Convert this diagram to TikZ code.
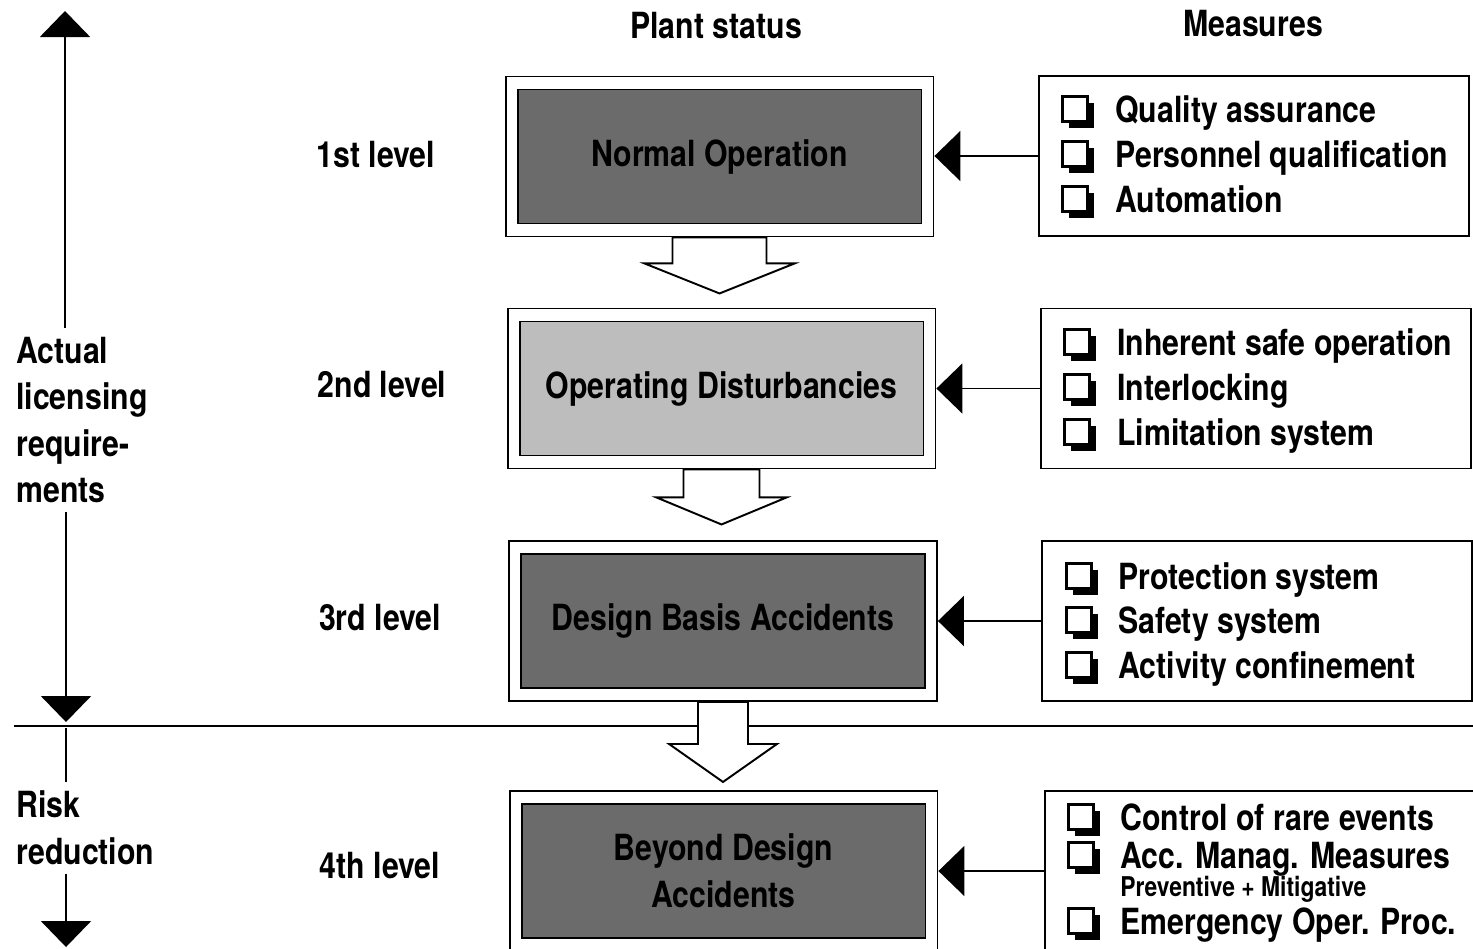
\documentclass[tikz,border=0pt]{standalone}
\usepackage{fontspec}
\setmainfont{TeX Gyre Heros}[FakeStretch=0.84]
\usetikzlibrary{arrows.meta, shadows}

\definecolor{darkfill}{gray}{0.42}
\definecolor{lightfill}{gray}{0.74}

\tikzset{
    lvlbox/.style={draw, line width=1.1pt, minimum width=8.56cm, minimum height=3.2cm, inner sep=0pt},
    lvlfill/.style={draw, line width=1.1pt, minimum width=8.08cm, minimum height=2.68cm, align=center, inner sep=0pt},
    measbox/.style={draw, line width=1.1pt, minimum width=8.6cm, minimum height=3.2cm, inner sep=0pt},
    chkbox/.style={draw, line width=1.5pt, fill=white, minimum size=0.5cm, inner sep=0pt,
        drop shadow={fill=black, opacity=1, shadow xshift=3.6pt, shadow yshift=-3.6pt}},
    item/.style={anchor=base west, inner sep=0pt},
    side/.style={anchor=west, align=left, inner xsep=0pt, inner ysep=5pt},
    thinline/.style={line width=1.1pt},
    bigarrow/.style={line width=1.1pt, -{Triangle[length=0.52cm, width=1cm]}},
    hollow/.style={line width=1.1pt, fill=white, line join=miter},
}

% hollow block arrow: start, shaft half width, head half width, shaft length, head length
\newcommand{\flowarrow}[5]{%
    \filldraw[hollow] (#1) ++(-#2,0) -- ++(0,#4) -- ++(#2-#3,0) -- ++(#3,#5)
        -- ++(#3,-#5) -- ++(#2-#3,0) -- ++(0,-#4) -- cycle;}

\begin{document}
\begin{tikzpicture}[x=0.02cm, y=-0.02cm, font=\fontsize{20.5}{26.5}\selectfont\bfseries]
    \clip (0,0) rectangle (1473,948);

    % column heads
    \node (headA) at (716,26) {Plant status};
    \node (headB) at (1253,24) {Measures};

    % levels
    \node (lblA) at (376,155) {1st level};
    \node (lblB) at (382,385) {2nd level};
    \node (lblC) at (380,618) {3rd level};
    \node (lblD) at (380,866) {4th level};

    % plant status boxes
    \node[lvlbox] (lvlA) at (719.5,156.5) {};
    \node[lvlfill, fill=darkfill] (inA) at (lvlA.center) {Normal Operation};
    \node[lvlbox] (lvlB) at (721.5,388.5) {};
    \node[lvlfill, fill=lightfill] (inB) at (lvlB.center) {Operating Disturbancies};
    \node[lvlbox] (lvlC) at (723,621) {};
    \node[lvlfill, fill=darkfill] (inC) at (lvlC.center) {Design Basis Accidents};
    \node[lvlbox] (lvlD) at (723.5,871) {};
    \node[lvlfill, fill=darkfill] (inD) at (lvlD.center) {Beyond Design\\Accidents};

    % measures boxes
    \node[measbox] (msA) at (1254,156) {};
    \node[measbox] (msB) at (1256,388.5) {};
    \node[measbox] (msC) at (1257,621) {};
    \node[measbox] (msD) at (1260,871) {};

    \foreach \yb/\txt [count=\i] in {122/Quality assurance, 167/Personnel qualification, 212/Automation} {
        \node[chkbox] (cA\i) at (1075,\yb-13) {};
        \node[item] (mA\i) at (1115,\yb) {\txt};
    }
    \foreach \yb/\txt [count=\i] in {355/Inherent safe operation, 400/Interlocking, 445/Limitation system} {
        \node[chkbox] (cB\i) at (1077,\yb-13) {};
        \node[item] (mB\i) at (1117,\yb) {\txt};
    }
    \foreach \yb/\txt [count=\i] in {589/Protection system, 633/Safety system, 678/Activity confinement} {
        \node[chkbox] (cC\i) at (1079,\yb-13) {};
        \node[item] (mC\i) at (1118,\yb) {\txt};
    }
    \foreach \yb/\txt [count=\i] in {830/Control of rare events, 868/Acc. Manag. Measures, 934/Emergency Oper. Proc.} {
        \node[chkbox] (cD\i) at (1081,\yb-13) {};
        \node[item] (mD\i) at (1120,\yb) {\txt};
    }
    \node[item, font=\fontsize{15.5}{18}\selectfont\bfseries] (mDsub) at (1120,896) {Preventive + Mitigative};

    % measures act on plant status
    \draw[bigarrow] (msA.west) -- (msA.west -| lvlA.east);
    \draw[bigarrow] (msB.west) -- (msB.west -| lvlB.east);
    \draw[bigarrow] (msC.west) -- (msC.west -| lvlC.east);
    \draw[bigarrow] (msD.west) -- (msD.west -| lvlD.east);

    % border between licensing and risk reduction
    \coordinate (divL) at (14,726);
    \coordinate (divR) at (1473,726);
    \draw[thinline] (divL) -- (divR);

    % transitions
    \flowarrow{lvlA.south}{47}{75}{26}{30}
    \flowarrow{lvlB.south}{38}{65}{28}{27}
    \flowarrow{lvlC.south}{25}{54}{42}{38}

    % left side
    \node[side] (actual) at (16,420) {Actual\\licensing\\require-\\ments};
    \node[side] (risk) at (16,828) {Risk\\reduction};
    \coordinate (tipA) at (65,11);
    \coordinate (tipB) at (66,722);
    \coordinate (startC) at (66,728);
    \coordinate (tipC) at (66,947);
    \draw[bigarrow] (actual.north -| tipA) -- (tipA);
    \draw[bigarrow] (actual.south -| tipB) -- (tipB);
    \draw[thinline] (startC) -- (risk.north -| startC);
    \draw[bigarrow] (risk.south -| tipC) -- (tipC);
\end{tikzpicture}
\end{document}
